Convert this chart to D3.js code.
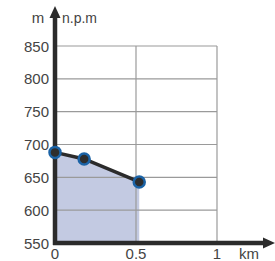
<!DOCTYPE html>
<html>
<head>
<meta charset="utf-8">
<script src="https://cdn.jsdelivr.net/npm/d3@7"></script>
<style>
  body { margin: 0; background: #fff; }
  text { font-family: "Liberation Sans", Arial, sans-serif; fill: #444; }
</style>
</head>
<body>
<svg id="chart"></svg>
<script>
// profile data (km, m n.p.m)
let distances = [0, 0.18, 0.52];
let heights = [688, 678, 643];
let yTicks = [550, 600, 650, 700, 750, 800, 850];
let xTicks = [0, 0.5, 1];
let xTickLabels = ["0", "0.5", "1"];

let width = 275, height = 261;
let svg = d3.select("#chart").attr("width", width).attr("height", height);

let x = d3.scaleLinear().domain([0, 1]).range([55, 217]);
let y = d3.scaleLinear().domain([550, 850]).range([243, 46]);

let points = distances.map((d, i) => ({ d: d, h: heights[i] }));

// filled area under profile
let area = d3.area().x(p => x(p.d)).y0(y(550)).y1(p => y(p.h));
svg.append("path").datum(points).attr("d", area)
  .attr("fill", "#bcc4df").attr("fill-opacity", 0.9);

// grid, drawn over the fill like the original
let grid = svg.append("g").attr("stroke", "#9a9a9a").attr("stroke-width", 1.2);
grid.selectAll("line.h").data(yTicks.slice(1)).enter().append("line")
  .attr("x1", x(0)).attr("x2", x(1))
  .attr("y1", d => y(d)).attr("y2", d => y(d));
grid.selectAll("line.v").data(xTicks.slice(1)).enter().append("line")
  .attr("x1", d => x(d)).attr("x2", d => x(d))
  .attr("y1", y(850)).attr("y2", y(550));

// profile line
let line = d3.line().x(p => x(p.d)).y(p => y(p.h));
svg.append("path").datum(points).attr("d", line)
  .attr("fill", "none").attr("stroke", "#2b2b2b").attr("stroke-width", 3.5);

// axes with arrows
let axisColor = "#2b2b2b";
svg.append("line").attr("x1", x(0)).attr("x2", x(0))
  .attr("y1", y(550) + 2).attr("y2", 16)
  .attr("stroke", axisColor).attr("stroke-width", 4.5);
svg.append("path").attr("d", `M${x(0) - 5.5},18 L${x(0)},6 L${x(0) + 5.5},18 Z`).attr("fill", axisColor);
svg.append("line").attr("x1", x(0) - 2).attr("x2", 266)
  .attr("y1", y(550)).attr("y2", y(550))
  .attr("stroke", axisColor).attr("stroke-width", 4.5);
svg.append("path").attr("d", `M263,${y(550) - 5.5} L275,${y(550)} L263,${y(550) + 5.5} Z`).attr("fill", axisColor);

// points
svg.selectAll("circle.pt").data(points).enter().append("circle")
  .attr("cx", p => x(p.d)).attr("cy", p => y(p.h)).attr("r", 5.5)
  .attr("fill", "#2e2e2e").attr("stroke", "#1b63a6").attr("stroke-width", 2.5);

// tick labels
svg.selectAll("text.yt").data(yTicks).enter().append("text")
  .attr("x", 49).attr("y", d => y(d) + 5.5)
  .attr("text-anchor", "end").attr("font-size", 15).text(d => d);
svg.selectAll("text.xt").data(xTicks).enter().append("text")
  .attr("x", d => x(d)).attr("y", 259)
  .attr("text-anchor", "middle").attr("font-size", 15).text((d, i) => xTickLabels[i]);

svg.append("text").attr("x", 249).attr("y", 259).attr("text-anchor", "middle")
  .attr("font-size", 15).text("km");
svg.append("text").attr("x", 38).attr("y", 23).attr("text-anchor", "middle")
  .attr("font-size", 15).text("m");
svg.append("text").attr("x", 62).attr("y", 23)
  .attr("font-size", 14).text("n.p.m");
</script>
</body>
</html>
